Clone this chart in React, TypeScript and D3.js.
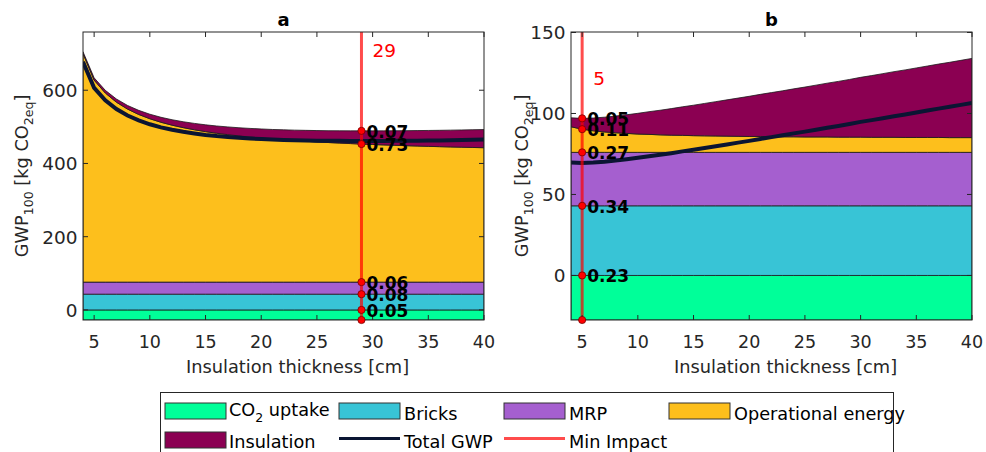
import React from 'react';
import * as d3 from 'd3';

// ---------- data ----------
const thickness = [4,5,6,7,8,9,10,11,12,13,14,15,16,17,18,19,20,21,22,23,24,25,26,27,28,29,30,31,32,33,34,35,36,37,38,39,40];
const co2Uptake = -27.5;
const bricks = 43;
const mrp = 33;
const operationalA = [624,551.6,516.4,491.3,472.5,457.8,446.1,436.5,428.5,421.8,416.0,410.9,406.5,402.7,399.2,396.1,393.4,390.8,388.6,386.5,384.6,382.8,381.2,379.7,378.3,377.0,375.8,374.6,373.6,372.6,371.6,370.7,369.9,369.1,368.4,367.7,367.0];
const insulationA = [5.0,6.2,7.4,8.7,9.9,11.2,12.4,13.6,14.9,16.1,17.4,18.6,19.8,21.1,22.3,23.6,24.8,26.0,27.3,28.5,29.8,31.0,32.2,33.5,34.7,36.0,37.2,38.4,39.7,40.9,42.2,43.4,44.6,45.9,47.1,48.4,49.6];
const operationalB = [15.8,14.3,13.3,12.6,12.1,11.7,11.3,11.1,10.8,10.6,10.5,10.3,10.2,10.1,10.0,9.9,9.8,9.8,9.7,9.6,9.6,9.5,9.5,9.5,9.4,9.4,9.4,9.3,9.3,9.3,9.2,9.2,9.2,9.2,9.1,9.1,9.1];
const insulationB = [5.5,6.7,7.9,9.1,10.3,11.5,12.8,14.0,15.2,16.4,17.6,18.8,20.0,21.2,22.4,23.6,24.8,26.0,27.2,28.4,29.6,30.8,32.0,33.2,34.4,35.6,36.9,38.1,39.3,40.5,41.7,42.9,44.1,45.3,46.5,47.7,48.9];
const minThicknessA = 29;
const minThicknessB = 5;
// shares: CO2 uptake, Bricks, MRP, Operational energy, Insulation
const sharesA = ['0.05','0.08','0.06','0.73','0.07'];
const sharesB = ['0.23','0.34','0.27','0.11','0.05'];
const xTicks = [5,10,15,20,25,30,35,40];
const yTicksA = [0,200,400,600];
const yTicksB = [0,50,100,150];
const keys = ['uptake','bricks','mrp','op','ins'];
const colors = ['#00ff99','#38c4d6','#a55fcf','#fdbf1c','#8b0052'];

const FONT = "'DejaVu Sans', sans-serif";
const AX = '#262626';

type PanelProps = {
  left: number; title: string; op: number[]; ins: number[]; minT: number;
  shares: string[]; yDomain: [number, number]; yTicks: number[];
  labelVal: number; yLabelX: number;
};

function Panel({ left, title, op, ins, minT, shares, yDomain, yTicks, labelVal, yLabelX }: PanelProps) {
  const top = 32, bottom = 320, width = 401;
  const right = left + width;
  const x = d3.scaleLinear().domain([4, 40]).range([left, right]);
  const y = d3.scaleLinear().domain(yDomain).range([bottom, top]);
  const rows = thickness.map((t, i) => ({ x: t, uptake: co2Uptake, bricks, mrp, op: op[i], ins: ins[i] }));
  const stacked = d3.stack<any>().keys(keys).offset(d3.stackOffsetDiverging)(rows);
  const area = d3.area<any>().x(d => x(d.data.x)).y0(d => y(d[0])).y1(d => y(d[1]));
  const total = d3.line<any>().x(d => x(d.x)).y(d => y(d.uptake + d.bricks + d.mrp + d.op + d.ins));
  const mi = thickness.indexOf(minT);
  const tops = stacked.map(s => Math.max(s[mi][0], s[mi][1]));
  const bottomVal = Math.min(stacked[0][mi][0], stacked[0][mi][1]);
  const lx = x(minT);
  const clipId = 'clip' + title;
  return (
    <g>
      <defs>
        <clipPath id={clipId}><rect x={left} y={top} width={width} height={bottom - top} /></clipPath>
      </defs>
      <g clipPath={`url(#${clipId})`}>
        {stacked.map((s, i) => (
          <path key={i} d={area(s) as string} fill={colors[i]} stroke="#1a1a1a" strokeWidth={0.8} />
        ))}
        <path d={total(rows) as string} fill="none" stroke="#0b1533" strokeWidth={4} />
        <line x1={lx} x2={lx} y1={top} y2={bottom} stroke="rgba(255,0,0,0.7)" strokeWidth={3} />
      </g>
      {/* axes box */}
      <rect x={left} y={top} width={width} height={bottom - top} fill="none" stroke={AX} strokeWidth={1} />
      {xTicks.map(t => (
        <g key={'x' + t}>
          <line x1={x(t)} x2={x(t)} y1={bottom} y2={bottom - 5} stroke={AX} />
          <line x1={x(t)} x2={x(t)} y1={top} y2={top + 5} stroke={AX} />
          <text x={x(t)} y={348} textAnchor="middle" fontSize={17.5} fill={AX} fontFamily={FONT}>{t}</text>
        </g>
      ))}
      {yTicks.map(t => (
        <g key={'y' + t}>
          <line x1={left} x2={left + 5} y1={y(t)} y2={y(t)} stroke={AX} />
          <line x1={right} x2={right - 5} y1={y(t)} y2={y(t)} stroke={AX} />
          <text x={left - 5.5} y={y(t) + 7} textAnchor="end" fontSize={18.5} fill={AX} fontFamily={FONT}>{t}</text>
        </g>
      ))}
      <text x={(left + right) / 2} y={26} textAnchor="middle" fontSize={18} fontWeight="bold" fill="#000" fontFamily={FONT}>{title}</text>
      <text x={(left + right) / 2 + 14} y={373} textAnchor="middle" fontSize={17.8} fill={AX} fontFamily={FONT}>Insulation thickness [cm]</text>
      <text transform={`translate(${yLabelX},176) rotate(-90)`} textAnchor="middle" fontSize={17.8} fill={AX} fontFamily={FONT}>
        GWP<tspan dy={5} fontSize={12.5}>100</tspan><tspan dy={-5}> [kg CO</tspan><tspan dy={5} fontSize={12.5}>2eq</tspan><tspan dy={-5}>]</tspan>
      </text>
      {/* min impact markers */}
      <text x={lx + 11} y={y(labelVal)} fontSize={18.5} fill="#ff0000" fontFamily={FONT}>{minT}</text>
      <circle cx={lx} cy={y(bottomVal)} r={3.6} fill="#ff0000" stroke="#7a0000" strokeWidth={0.8} />
      {tops.map((v, i) => (
        <g key={'d' + i}>
          <circle cx={lx} cy={y(v)} r={3.6} fill="#ff0000" stroke="#7a0000" strokeWidth={0.8} />
          <text x={lx + 5} y={y(v) + 7} fontSize={17} fontWeight="bold" fill="#000" fontFamily={FONT}>{shares[i]}</text>
        </g>
      ))}
    </g>
  );
}

function Legend() {
  const sw = 61, sh = 16;
  const colX = [165, 339, 504, 669];
  const textX = [229, 404, 569, 734];
  const r1 = 403, r2 = 432;
  const fs = 17.7;
  return (
    <g fontFamily={FONT} fontSize={fs} fill="#000">
      <rect x={160.5} y={392.5} width={733} height={80} fill="#fff" stroke={AX} strokeWidth={1} />
      <rect x={colX[0]} y={r1} width={sw} height={sh} fill={colors[0]} stroke="#333" />
      <text x={textX[0]} y={416}>CO<tspan dy={6} fontSize={12.5}>2</tspan><tspan dy={-6}> uptake</tspan></text>
      <rect x={colX[1]} y={r1} width={sw} height={sh} fill={colors[1]} stroke="#333" />
      <text x={textX[1]} y={420}>Bricks</text>
      <rect x={colX[2]} y={r1} width={sw} height={sh} fill={colors[2]} stroke="#333" />
      <text x={textX[2]} y={420}>MRP</text>
      <rect x={colX[3]} y={r1} width={sw} height={sh} fill={colors[3]} stroke="#333" />
      <text x={textX[3]} y={420}>Operational energy</text>
      <rect x={colX[0]} y={r2} width={sw} height={sh} fill={colors[4]} stroke="#333" />
      <text x={textX[0]} y={448}>Insulation</text>
      <line x1={colX[1]} x2={colX[1] + sw} y1={438.5} y2={438.5} stroke="#0b1533" strokeWidth={3} />
      <text x={textX[1]} y={448}>Total GWP</text>
      <line x1={colX[2]} x2={colX[2] + sw} y1={438.5} y2={438.5} stroke="rgba(255,0,0,0.7)" strokeWidth={3} />
      <text x={textX[2]} y={448}>Min Impact</text>
    </g>
  );
}

export default function App() {
  return (
    <svg width={986} height={452} style={{ position: 'absolute', left: 0, top: 0, background: '#fff' }}>
      <rect width={986} height={452} fill="#fff" />
      <Panel left={83} title="a" op={operationalA} ins={insulationA} minT={minThicknessA} shares={sharesA}
        yDomain={[-27.5, 759]} yTicks={yTicksA} labelVal={690} yLabelX={28} />
      <Panel left={571} title="b" op={operationalB} ins={insulationB} minT={minThicknessB} shares={sharesB}
        yDomain={[-27.5, 150.3]} yTicks={yTicksB} labelVal={117.5} yLabelX={528} />
      <Legend />
    </svg>
  );
}
